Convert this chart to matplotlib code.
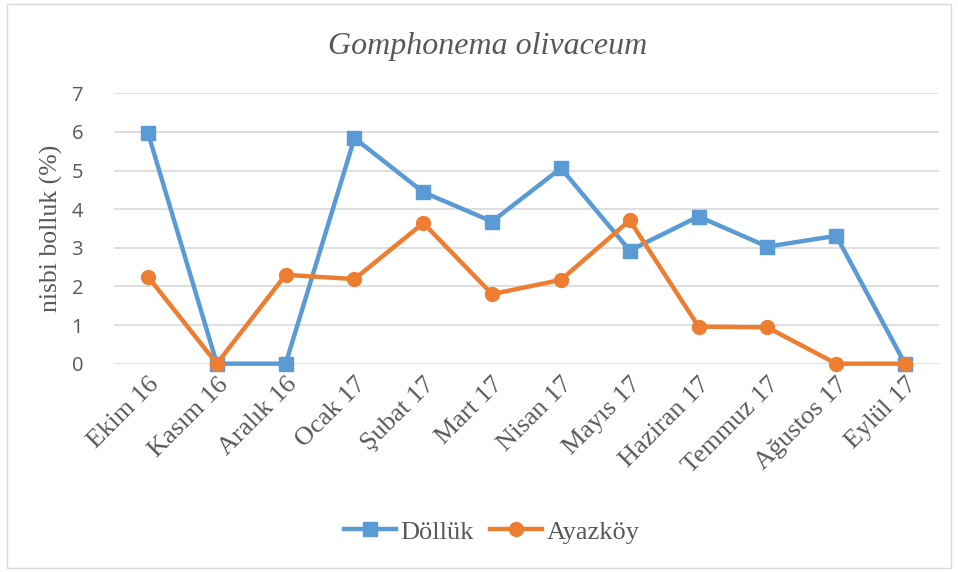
import matplotlib
matplotlib.use("Agg")
import matplotlib.pyplot as plt
from matplotlib.patches import Rectangle

months = ["Ekim 16", "Kasım 16", "Aralık 16", "Ocak 17", "Şubat 17", "Mart 17",
          "Nisan 17", "Mayıs 17", "Haziran 17", "Temmuz 17", "Ağustos 17", "Eylül 17"]
dolluk = [5.97, 0, 0, 5.84, 4.44, 3.68, 5.06, 2.93, 3.81, 3.03, 3.31, 0]
ayazkoy = [2.25, 0, 2.30, 2.19, 3.64, 1.80, 2.17, 3.71, 0.96, 0.94, 0, 0]
yticks = [0, 1, 2, 3, 4, 5, 6, 7]

BLUE = "#5B9BD5"
ORANGE = "#ED7D31"
TXT = "#595959"
SERIF = "Liberation Serif"

fig = plt.figure(figsize=(9.58, 5.72), dpi=100)
fig.patches.append(Rectangle((0.007, 0.007), 0.986, 0.986, transform=fig.transFigure,
                             fill=False, edgecolor="#D9D9D9", linewidth=1.0))
ax = fig.add_axes([0.1186, 0.3642, 0.862, 0.4727])

x = list(range(len(months)))
ax.plot(x, dolluk, color=BLUE, linewidth=3.2, marker="s", markersize=9.5, label="Döllük",
        solid_joinstyle="round", clip_on=False)
ax.plot(x, ayazkoy, color=ORANGE, linewidth=3.2, marker="o", markersize=10, label="Ayazköy",
        solid_joinstyle="round", clip_on=False)

ax.set_xlim(-0.5, len(months) - 0.5)
ax.set_ylim(0, 7)
ax.set_yticks(yticks)
ax.set_yticklabels([str(v) for v in yticks], fontfamily="Open Sans", fontsize=14.5, color=TXT)
ax.set_xticks(x)
ax.set_xticklabels(months, rotation=45, ha="right", rotation_mode="anchor",
                   fontfamily=SERIF, fontsize=19, color=TXT)
ax.tick_params(axis="both", length=0)
ax.tick_params(axis="y", pad=22)
ax.tick_params(axis="x", pad=7)
ax.grid(axis="y", color="#D9D9D9", linewidth=1.2)
ax.set_axisbelow(True)
for s in ax.spines.values():
    s.set_visible(False)

ax.set_ylabel("nisbi bolluk (%)", fontfamily=SERIF, fontsize=18.5, color=TXT, labelpad=6)

fig.text(0.509, 0.918, "Gomphonema olivaceum", ha="center", va="center",
         fontfamily=SERIF, fontstyle="italic", fontsize=23, color=TXT)

leg = fig.legend(handles=ax.lines, labels=["Döllük", "Ayazköy"], loc="center",
                 bbox_to_anchor=(0.513, 0.07), ncol=2, frameon=False,
                 prop={"family": SERIF, "size": 19}, handlelength=2.0,
                 columnspacing=0.6, handletextpad=0.15)
for t in leg.get_texts():
    t.set_color(TXT)

fig.savefig("out.png", dpi=100)
